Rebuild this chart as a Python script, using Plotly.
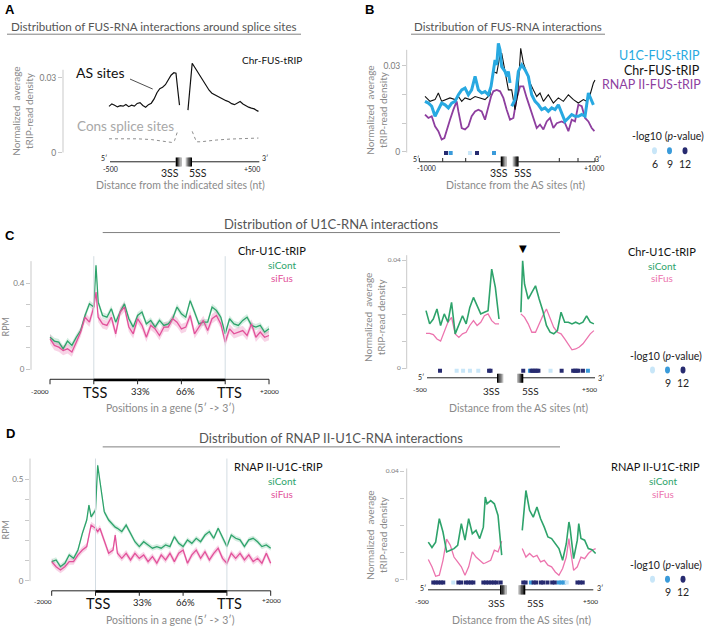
import plotly.graph_objects as go

W, H = 709, 630
FONT = "Lato"
GREY_TXT = "#8a8a8a"
AXIS_GREY = "#c9c9c9"
GREEN = "#2EA36B"
PINK = "#E2519A"
PINK_LIGHT = "#EC74AE"
CYAN = "#28A9E1"
PURPLE = "#8E3F9F"
SIG_COLORS = {6: "#C8E6F8", 9: "#3A9BDA", 12: "#272B70"}

# ---------------- DATA ----------------
# Panel A : Chr-FUS-tRIP around splice sites (nt from site)
A_pos_3ss = [-500, -480, -460, -440, -420, -400, -380, -360, -340, -320, -300, -280, -260, -240,
             -220, -200, -180, -160, -140, -120, -100, -80, -60, -40, -25, -12, 0]
A_as_3ss = [0.0185, 0.0195, 0.0190, 0.0183, 0.0188, 0.0186, 0.0193, 0.0184, 0.0190, 0.0186,
            0.0197, 0.0200, 0.0189, 0.0182, 0.0192, 0.0198, 0.0215, 0.0240, 0.0256, 0.0262,
            0.0272, 0.0290, 0.0310, 0.0320, 0.0318, 0.0250, 0.0190]
A_pos_5ss = [0, 15, 30, 50, 70, 90, 110, 130, 150, 170, 190, 210, 230, 250, 270, 290, 310, 330,
             350, 370, 390, 410, 430, 450, 470, 490, 500]
A_as_5ss = [0.0170, 0.0270, 0.0358, 0.0340, 0.0322, 0.0305, 0.0285, 0.0268, 0.0250, 0.0238,
            0.0232, 0.0226, 0.0218, 0.0214, 0.0208, 0.0204, 0.0196, 0.0192, 0.0200, 0.0205,
            0.0195, 0.0188, 0.0182, 0.0178, 0.0175, 0.0168, 0.0165]
A_cons_pos_3ss = [-500, -400, -300, -200, -150, -100, -70, -50, -35, -25, -14]
A_cons_3ss = [0.0055, 0.0056, 0.0055, 0.0052, 0.0048, 0.0042, 0.0039, 0.0040, 0.0048, 0.0065, 0.0085]
A_cons_pos_5ss = [30, 45, 60, 90, 130, 200, 300, 400, 500]
A_cons_5ss = [0.0085, 0.0060, 0.0043, 0.0043, 0.0046, 0.0050, 0.0054, 0.0057, 0.0058]

# Panel B : FUS-RNA interactions (-1000..+1000 around AS sites)
B_chr_pos = [-1000, -941, -882, -843, -804, -764, -706, -647, -607, -568, -529, -470, -411, -353,
             -294, -235, -196, -156, -117, -98, -58, -19, 20, 59, 91, 126, 157, 197, 236, 275,
             314, 353, 393, 451, 510, 569, 628, 687, 746, 804, 863, 902, 942, 981, 1000]
B_chr = [0.0193, 0.0176, 0.0182, 0.0205, 0.0176, 0.0182, 0.0188, 0.0182, 0.0193, 0.0176,
         0.0188, 0.0182, 0.0193, 0.0188, 0.0182, 0.0199, 0.0280, 0.0274, 0.0338, 0.0344,
         0.0274, 0.0216, 0.0216, 0.0147, 0.0200, 0.0361, 0.0310, 0.0274, 0.0240, 0.0216,
         0.0193, 0.0205, 0.0176, 0.0199, 0.0170, 0.0188, 0.0176, 0.0199, 0.0182, 0.0170,
         0.0182, 0.0176, 0.0199, 0.0240, 0.0250]
B_u1c_pos_3ss = [-1000, -960, -921, -882, -843, -804, -764, -725, -686, -647, -607, -568, -529,
                 -490, -451, -411, -372, -333, -294, -255, -223, -196, -176, -156, -137, -117,
                 -98, -58, -39, -19, 0]
B_u1c_3ss = [0.0176, 0.0170, 0.0159, 0.0124, 0.0147, 0.0170, 0.0164, 0.0153, 0.0170, 0.0176,
             0.0199, 0.0216, 0.0222, 0.0199, 0.0216, 0.0263, 0.0216, 0.0205, 0.0210, 0.0199,
             0.0228, 0.0280, 0.0320, 0.0303, 0.0378, 0.0355, 0.0297, 0.0280, 0.0263, 0.0280,
             0.0240]
B_u1c_pos_5ss = [20, 59, 98, 138, 177, 216, 255, 295, 334, 373, 412, 451, 491, 530, 569, 608,
                 647, 687, 726, 765, 804, 844, 883, 922, 950, 981]
B_u1c_5ss = [0.0159, 0.0182, 0.0280, 0.0303, 0.0286, 0.0263, 0.0199, 0.0176, 0.0164, 0.0147,
             0.0153, 0.0141, 0.0153, 0.0147, 0.0164, 0.0135, 0.0106, 0.0118, 0.0130, 0.0124,
             0.0124, 0.0130, 0.0124, 0.0205, 0.0185, 0.0164]
B_pol_pos = [-1000, -960, -921, -882, -843, -804, -772, -745, -706, -666, -627, -607, -568, -529,
             -490, -451, -411, -372, -333, -294, -255, -223, -196, -156, -117, -78, -39, 0, 40,
             79, 118, 157, 197, 236, 275, 314, 353, 393, 432, 471, 510, 550, 608, 647, 687, 726,
             765, 804, 844, 883, 922, 961, 993]
B_pol = [0.0130, 0.0118, 0.0124, 0.0089, 0.0072, 0.0043, 0.0048, 0.0078, 0.0112, 0.0147,
         0.0176, 0.0141, 0.0083, 0.0078, 0.0089, 0.0124, 0.0141, 0.0147, 0.0141, 0.0112,
         0.0159, 0.0193, 0.0211, 0.0216, 0.0211, 0.0188, 0.0147, 0.0112, 0.0118, 0.0188,
         0.0228, 0.0228, 0.0188, 0.0153, 0.0112, 0.0083, 0.0095, 0.0078, 0.0106, 0.0118,
         0.0083, 0.0100, 0.0106, 0.0100, 0.0072, 0.0112, 0.0106, 0.0164, 0.0159, 0.0118,
         0.0106, 0.0083, 0.0072]
B_sig_pos = [-753, -698, -471, -388, -188]
B_sig_lvl = [12, 9, 6, 12, 9]

# Panel C left : Chr-U1C-tRIP metagene (-1 = -2000, 0 = TSS, 1 = 33%, 2 = 66%, 3 = TTS, 4 = +2000)
C_meta_pos = [-1.0, -0.9, -0.8, -0.7, -0.6, -0.5, -0.4, -0.3, -0.2, -0.1, 0.0, 0.05, 0.1,
              0.2, 0.3, 0.4, 0.5, 0.6, 0.7, 0.8, 0.9, 1.0, 1.1, 1.2, 1.3, 1.4, 1.5, 1.6, 1.7,
              1.8, 1.9, 2.0, 2.1, 2.2, 2.3, 2.4, 2.5, 2.6, 2.7, 2.8, 2.9, 3.0, 3.1, 3.2, 3.3,
              3.4, 3.5, 3.6, 3.7, 3.8, 3.9, 4.0]
C_meta_cont = [0.150, 0.132, 0.127, 0.096, 0.132, 0.112, 0.150, 0.181, 0.251, 0.305, 0.290,
               0.484, 0.313, 0.251, 0.243, 0.282, 0.220, 0.267, 0.305, 0.236, 0.197, 0.251,
               0.267, 0.212, 0.228, 0.197, 0.228, 0.205, 0.212, 0.236, 0.290, 0.259, 0.243,
               0.320, 0.267, 0.212, 0.220, 0.220, 0.290, 0.274, 0.243, 0.166, 0.236, 0.212,
               0.205, 0.228, 0.243, 0.205, 0.197, 0.205, 0.174, 0.189]
C_meta_fus = [0.143, 0.112, 0.104, 0.088, 0.096, 0.081, 0.127, 0.174, 0.243, 0.220, 0.290,
              0.360, 0.243, 0.212, 0.205, 0.243, 0.166, 0.267, 0.290, 0.197, 0.166, 0.236,
              0.205, 0.150, 0.205, 0.189, 0.158, 0.197, 0.197, 0.236, 0.220, 0.189, 0.197,
              0.251, 0.166, 0.197, 0.228, 0.181, 0.236, 0.251, 0.212, 0.127, 0.189, 0.166,
              0.174, 0.181, 0.158, 0.212, 0.150, 0.174, 0.150, 0.158]
C_meta_sem_cont = 0.015
C_meta_sem_fus = 0.022

# Panel C right : Chr-U1C-tRIP around AS sites
C_pos_3ss = [-500, -475, -450, -425, -400, -375, -350, -325, -300, -275, -250, -225, -200, -175,
             -150, -125, -100, -75, -50, -25, 0]
C_cont_3ss = [0.0213, 0.0164, 0.0182, 0.0219, 0.0158, 0.0201, 0.0170, 0.0244, 0.0127, 0.0158,
              0.0194, 0.0164, 0.0225, 0.0262, 0.0231, 0.0201, 0.0207, 0.0213, 0.0367, 0.0299,
              0.0182]
C_fus_3ss = [0.0129, 0.0129, 0.0124, 0.0108, 0.0100, 0.0133, 0.0170, 0.0188, 0.0127, 0.0114,
             0.0127, 0.0133, 0.0158, 0.0176, 0.0158, 0.0170, 0.0194, 0.0201, 0.0176, 0.0164,
             0.0164]
C_pos_5ss = [0, 12, 25, 50, 75, 100, 125, 150, 175, 200, 225, 250, 275, 300, 325, 350, 375, 400,
             425, 450, 475, 500]
C_cont_5ss = [0.0207, 0.0398, 0.0311, 0.0256, 0.0281, 0.0305, 0.0256, 0.0213, 0.0158, 0.0133,
              0.0127, 0.0139, 0.0207, 0.0170, 0.0170, 0.0164, 0.0170, 0.0164, 0.0170, 0.0194,
              0.0170, 0.0164]
C_fus_5ss = [0.0201, 0.0195, 0.0188, 0.0164, 0.0133, 0.0133, 0.0164, 0.0194, 0.0219, 0.0182,
             0.0151, 0.0133, 0.0127, 0.0108, 0.0090, 0.0068, 0.0071, 0.0078, 0.0090, 0.0108,
             0.0127, 0.0139]
C_sig_pos_3ss = [-404, -290, -246, -199, -142, -68, -58]
C_sig_lvl_3ss = [12, 6, 6, 6, 6, 12, 12]
C_sig_pos_5ss = [16, 62, 72, 84, 96, 108, 120, 203, 279, 358, 370, 382, 394, 425, 459]
C_sig_lvl_5ss = [12, 9, 12, 12, 12, 12, 12, 6, 12, 12, 12, 12, 12, 12, 9]

# Panel D left : RNAP II-U1C-tRIP metagene
D_meta_pos = [-1.0, -0.9, -0.8, -0.7, -0.6, -0.5, -0.4, -0.3, -0.2, -0.15, -0.1, 0.0, 0.05, 0.1,
              0.2, 0.3, 0.4, 0.45, 0.5, 0.6, 0.7, 0.8, 0.9, 1.0, 1.1, 1.2, 1.3, 1.4, 1.5, 1.6,
              1.7, 1.8, 1.9, 2.0, 2.1, 2.2, 2.3, 2.4, 2.5, 2.6, 2.7, 2.8, 2.9, 3.0, 3.1, 3.2,
              3.3, 3.4, 3.5, 3.6, 3.7, 3.8, 3.9, 4.0]
D_meta_cont = [0.095, 0.103, 0.070, 0.087, 0.128, 0.111, 0.152, 0.234, 0.300, 0.374, 0.316,
               0.349, 0.570, 0.497, 0.341, 0.300, 0.275, 0.265, 0.259, 0.243, 0.275, 0.234,
               0.193, 0.169, 0.193, 0.177, 0.161, 0.169, 0.161, 0.177, 0.169, 0.218, 0.185,
               0.169, 0.202, 0.185, 0.210, 0.193, 0.226, 0.243, 0.210, 0.259, 0.210, 0.169,
               0.226, 0.210, 0.202, 0.169, 0.202, 0.210, 0.193, 0.169, 0.177, 0.161]
D_meta_fus = [0.095, 0.070, 0.054, 0.070, 0.095, 0.095, 0.128, 0.152, 0.169, 0.220, 0.275,
              0.259, 0.243, 0.259, 0.202, 0.136, 0.152, 0.226, 0.136, 0.111, 0.136, 0.103,
              0.136, 0.111, 0.128, 0.095, 0.120, 0.087, 0.128, 0.103, 0.136, 0.095, 0.136,
              0.152, 0.087, 0.128, 0.152, 0.111, 0.144, 0.103, 0.136, 0.161, 0.111, 0.087,
              0.136, 0.111, 0.136, 0.103, 0.128, 0.095, 0.111, 0.087, 0.136, 0.087]
D_meta_sem_cont = 0.013
D_meta_sem_fus = 0.016

# Panel D right : RNAP II-U1C-tRIP around AS sites
D_pos_3ss = [-500, -475, -450, -425, -400, -375, -350, -325, -300, -275, -250, -225, -200, -175,
             -150, -125, -112, -100, -75, -50, -25, 0]
D_cont_3ss = [0.0139, 0.0119, 0.0139, 0.0225, 0.0176, 0.0103, 0.0109, 0.0115, 0.0127, 0.0207,
              0.0146, 0.0225, 0.0170, 0.0182, 0.0152, 0.0194, 0.0305, 0.0280, 0.0292, 0.0280,
              0.0237, 0.0091]
D_fus_3ss = [0.0075, 0.0048, 0.0013, 0.0017, 0.0072, 0.0150, 0.0127, 0.0084, 0.0066, 0.0048,
             0.0017, 0.0048, 0.0103, 0.0084, 0.0072, 0.0060, 0.0062, 0.0066, 0.0072, 0.0109,
             0.0103, 0.0142]
D_pos_5ss = [0, 25, 50, 75, 100, 125, 150, 175, 200, 225, 250, 275, 300, 318, 325, 350, 375, 385,
             400, 425, 450, 475, 500]
D_cont_5ss = [0.0182, 0.0329, 0.0256, 0.0231, 0.0268, 0.0225, 0.0194, 0.0158, 0.0152, 0.0133,
              0.0115, 0.0072, 0.0133, 0.0213, 0.0194, 0.0078, 0.0146, 0.0207, 0.0152, 0.0146,
              0.0115, 0.0111, 0.0097]
D_fus_5ss = [0.0115, 0.0084, 0.0097, 0.0084, 0.0090, 0.0066, 0.0072, 0.0054, 0.0048, 0.0029,
             0.0017, 0.0042, 0.0084, 0.0152, 0.0121, 0.0035, 0.0048, 0.0060, 0.0084, 0.0078,
             0.0097, 0.0109, 0.0115]
D_sig_pos_3ss = [-466, -450, -432, -414, -398, -330, -295, -277, -245, -227, -209, -193, -125,
                 -107, -89, -70, -52, -34, -7]
D_sig_lvl_3ss = [12, 12, 12, 12, 12, 6, 12, 12, 12, 12, 12, 12, 12, 12, 12, 12, 12, 12, 12]
D_sig_pos_5ss = [7, 23, 59, 77, 95, 127, 143, 172, 204, 222, 249, 267, 285, 303, 376, 394, 412]
D_sig_lvl_5ss = [12, 12, 9, 12, 12, 12, 12, 12, 12, 12, 9, 9, 9, 6, 12, 12, 12]

# gap offsets (layout) placing the 5SS segment right of the 3SS segment
OFF_A, OFF_C, OFF_D = 60, 150, 140


# ---------------- HELPERS ----------------
def px(x):
    return x / W


def py(y):
    return 1 - y / H


fig = go.Figure()
layout = {}
shapes, annots = [], []


def lin(p, a):
    p1, v1, p2, v2 = a
    return v1 + (p - p1) * (v2 - v1) / (p2 - p1)


def axes(i, xdom, xa, ydom, ya, tickvals, ticktext, tsize):
    xk = "xaxis" if i == 1 else f"xaxis{i}"
    yk = "yaxis" if i == 1 else f"yaxis{i}"
    xn = "x" if i == 1 else f"x{i}"
    yn = "y" if i == 1 else f"y{i}"
    layout[xk] = dict(domain=[px(xdom[0]), px(xdom[1])],
                      range=[lin(xdom[0], xa), lin(xdom[1], xa)],
                      visible=False, anchor=yn, fixedrange=True)
    layout[yk] = dict(domain=[py(ydom[1]), py(ydom[0])],
                      range=[lin(ydom[1], ya), lin(ydom[0], ya)],
                      anchor=xn, showgrid=False, zeroline=False, showline=False,
                      ticks="outside", ticklen=4, tickwidth=1, tickcolor=AXIS_GREY,
                      tickvals=tickvals, ticktext=ticktext,
                      tickfont=dict(size=tsize, color="#7a7a7a", family=FONT),
                      fixedrange=True)
    return xn, yn


def track(i, xn, yc):
    layout[f"yaxis{i}"] = dict(domain=[py(yc + 4), py(yc - 4)], range=[-1, 1], anchor=xn,
                               visible=False, fixedrange=True)
    return f"y{i}"


def add_line(x, y, xn, yn, color, width, dash=None):
    fig.add_trace(go.Scatter(x=x, y=y, xaxis=xn, yaxis=yn, mode="lines",
                             line=dict(color=color, width=width, dash=dash),
                             hoverinfo="skip", showlegend=False, connectgaps=False))


def add_band(pos, vals, sem, xn, yn, fill):
    up = [v + sem for v in vals]
    lo = [v - sem for v in vals]
    fig.add_trace(go.Scatter(x=list(pos) + list(pos)[::-1], y=up + lo[::-1], xaxis=xn, yaxis=yn,
                             mode="lines", fill="toself", fillcolor=fill, line=dict(width=0),
                             hoverinfo="skip", showlegend=False))


def split(p3, p5, off):
    return list(p3) + [None] + [p + off for p in p5]


def add_sig(pos, lvl, xn, yn):
    fig.add_trace(go.Scatter(x=pos, y=[0] * len(pos), xaxis=xn, yaxis=yn, mode="markers",
                             marker=dict(symbol="square", size=4,
                                         color=[SIG_COLORS[l] for l in lvl], line=dict(width=0)),
                             hoverinfo="skip", showlegend=False))


def seg(x0, y0, x1, y1, color="#000", width=1, dash=None):
    shapes.append(dict(type="line", xref="paper", yref="paper", x0=px(x0), y0=py(y0),
                       x1=px(x1), y1=py(y1), line=dict(color=color, width=width, dash=dash)))


def rect(x0, y0, x1, y1, color):
    shapes.append(dict(type="rect", xref="paper", yref="paper", x0=px(x0), y0=py(y1),
                       x1=px(x1), y1=py(y0), fillcolor=color, line=dict(width=0)))


def ell(cx, cy, color, w=5, h=7):
    shapes.append(dict(type="circle", xref="paper", yref="paper", x0=px(cx - w / 2),
                       x1=px(cx + w / 2), y0=py(cy + h / 2), y1=py(cy - h / 2),
                       fillcolor=color, line=dict(width=0)))


def txt(x, y, s, size=10, color="#000", xanchor="center", angle=0, family=FONT):
    annots.append(dict(x=px(x), y=py(y), xref="paper", yref="paper", text=s, showarrow=False,
                       xanchor=xanchor, yanchor="middle", textangle=angle,
                       font=dict(size=size, color=color, family=family)))


def grad_box(x0, x1, y0, y1, dark_left):
    greys = ["#000000", "#262626", "#555555", "#888888", "#bbbbbb"]
    if not dark_left:
        greys = greys[::-1]
    w = (x1 - x0) / len(greys)
    for k, g in enumerate(greys):
        rect(x0 + k * w, y0, x0 + (k + 1) * w + 0.3, y1, g)


def ss_axis(xl, b3, b5, xr, yl, by):
    seg(xl, yl, b3[0], yl, "#222", 1)
    seg(b5[1], yl, xr, yl, "#222", 1)
    grad_box(b3[0], b3[1], by[0], by[1], True)
    grad_box(b5[0], b5[1], by[0], by[1], False)


def gene_axis(xn, yl):
    shapes.append(dict(type="line", xref=xn, yref="paper", x0=-1, x1=4, y0=py(yl), y1=py(yl),
                       line=dict(color="#222", width=1)))
    shapes.append(dict(type="line", xref=xn, yref="paper", x0=0, x1=3, y0=py(yl + 0.7),
                       y1=py(yl + 0.7), line=dict(color="#000", width=2.5)))
    for t in [-1, 0, 1, 2, 3, 4]:
        shapes.append(dict(type="line", xref=xn, yref="paper", x0=t, x1=t, y0=py(yl),
                           y1=py(yl + 5), line=dict(color="#222", width=1)))


def vguide(xn, xv, y0, y1):
    shapes.append(dict(type="line", xref=xn, yref="paper", x0=xv, x1=xv, y0=py(y0), y1=py(y1),
                       line=dict(color="#d3dce2", width=1)))


def ytitle(x, y, size=10):
    txt(x, y, "Normalized  average<br>tRIP-read density", size, GREY_TXT, angle=-90)


def sig_legend(x_c, y_t, labels):
    txt(x_c, y_t, "-log10 (<i>p</i>-value)", 10.5, "#222")
    xs = [x_c - 13.5, x_c + 1.5, x_c + 17]
    for xv, lv in zip(xs, [6, 9, 12]):
        ell(xv, y_t + 14.5, SIG_COLORS[lv])
    for xv, lab in zip(xs, labels):
        if lab:
            txt(xv, y_t + 27.5, lab, 10.5, "#222")


def panel_title(x0, x1, y_text, y_line, s, size, line_x=None):
    txt((x0 + x1) / 2, y_text, s, size, "#555555")
    lx = line_x if line_x else (x0 - 2, x1 + 2)
    seg(lx[0], y_line, lx[1], y_line, "#808080", 1)


# ---------------- PANEL A ----------------
xa, ya = axes(1, (63, 268), (109, -500, 179.5, 0), (58, 156), (153, 0, 78, 0.03),
              [0, 0.03], ["0", "0.03"], 8.5)
add_line(split(A_cons_pos_3ss, A_cons_pos_5ss, OFF_A), A_cons_3ss + [None] + A_cons_5ss,
         xa, ya, "#8f8f8f", 1, "dot")
add_line(split(A_pos_3ss, A_pos_5ss, OFF_A), A_as_3ss + [None] + A_as_5ss, xa, ya, "#111", 1.2)
seg(63, 70, 63, 153, AXIS_GREY, 1)
txt(10, 9.5, "<b>A</b>", 13, "#000", family="Liberation Sans")
panel_title(9, 299, 26.7, 34.3, "Distribution of FUS-RNA interactions around splice sites", 11.6)
txt(271.7, 60, "Chr-FUS-tRIP", 10, "#111")
txt(100, 72.3, "AS sites", 14, "#111")
seg(130, 79.3, 152.7, 89.3, "#222", 0.8)
txt(125.7, 126, "Cons splice sites", 13.5, "#a8a8a8")
ytitle(23, 112)
ss_axis(110, (175.7, 181.7), (185.7, 191.7), 259.3, 162.3, (158, 167))
txt(104, 159, "5′", 7, "#222")
txt(265, 159, "3′", 7, "#222")
txt(110, 170, "-500", 7, "#222")
txt(252, 170, "+500", 7, "#222")
txt(170, 173.5, "3SS", 10.5, "#222")
txt(198, 173.5, "5SS", 10.5, "#222")
txt(180, 185.5, "Distance from the indicated sites (nt)", 10.5, GREY_TXT)

# ---------------- PANEL B ----------------
xb, yb = axes(2, (407, 600), (425, -1000, 510, 0), (40, 157), (152.3, 0, 66, 0.03),
              [0, 0.01, 0.02, 0.03], ["0", "", "", "0.03"], 8.5)
add_line(B_pol_pos, B_pol, xb, yb, PURPLE, 1.8)
add_line(B_chr_pos, B_chr, xb, yb, "#111", 1.1)
add_line(split(B_u1c_pos_3ss, B_u1c_pos_5ss, 0), B_u1c_3ss + [None] + B_u1c_5ss, xb, yb, CYAN, 3)
yb_t = track(7, xb, 153.5)
add_sig(B_sig_pos, B_sig_lvl, xb, yb_t)
seg(406.7, 50, 406.7, 153, AXIS_GREY, 1)
txt(369, 9.5, "<b>B</b>", 13, "#000", family="Liberation Sans")
panel_title(413, 603, 26.7, 34.3, "Distribution of FUS-RNA interactions", 11.5)
ytitle(377, 110)
ss_axis(419.3, (500.7, 506.7), (512.7, 518.3), 595, 162.3, (157, 167))
for tx in [419.3, 442.7, 465.7, 559.3, 578, 595]:
    seg(tx, 158.5, tx, 162.3, "#222", 1)
txt(416, 159.5, "5′", 7, "#222")
txt(598, 159.5, "3′", 7, "#222")
txt(426.7, 168.5, "-1000", 7, "#222")
txt(594, 168.5, "+1000", 7, "#222")
txt(499, 173.5, "3SS", 10.5, "#222")
txt(523, 173.5, "5SS", 10.5, "#222")
txt(515, 185.5, "Distance from the AS sites (nt)", 10.5, GREY_TXT)
txt(702, 56, "U1C-FUS-tRIP", 12.5, CYAN, xanchor="right")
txt(702, 70.7, "Chr-FUS-tRIP", 12.5, "#111", xanchor="right")
txt(703, 85, "RNAP II-FUS-tRIP", 12.5, PURPLE, xanchor="right")
sig_legend(668, 136.7, ["6", "9", "12"])

# ---------------- PANEL C ----------------
txt(10, 236, "<b>C</b>", 13, "#000", family="Liberation Sans")
txt(331, 225, "Distribution of U1C-RNA interactions", 13, "#555555")
seg(102.7, 233.3, 560, 233.3, "#808080", 1)

xc, yc = axes(3, (31, 276), (50, -1, 269, 4), (255, 375), (370.7, 0, 284.3, 0.4),
              [0, 0.1, 0.2, 0.3, 0.4], ["0", "", "", "", "0.4"], 8)
vguide(xc, 0, 257, 381)
vguide(xc, 3, 257, 381)
add_band(C_meta_pos, C_meta_cont, C_meta_sem_cont, xc, yc, "rgba(46,163,107,0.20)")
add_band(C_meta_pos, C_meta_fus, C_meta_sem_fus, xc, yc, "rgba(226,81,154,0.25)")
add_line(C_meta_pos, C_meta_cont, xc, yc, GREEN, 1.3)
add_line(C_meta_pos, C_meta_fus, xc, yc, PINK, 1.3)
seg(31, 262, 31, 371, AXIS_GREY, 1)
gene_axis(xc, 380.5)
txt(5.5, 328, "RPM", 9, GREY_TXT, angle=-90)
txt(40, 393, "-2000", 6.5, "#222")
txt(95.3, 393.5, "TSS", 14.5, "#111")
txt(140, 393, "33%", 9.5, "#222")
txt(185, 393, "66%", 9.5, "#222")
txt(229, 393.5, "TTS", 14.5, "#111")
txt(269.7, 392.7, "+2000", 6.5, "#222")
txt(170.7, 409, "Positions in a gene (5′ -> 3′)", 10.5, GREY_TXT)
txt(271.7, 251.7, "Chr-U1C-tRIP", 11, "#111")
txt(281.7, 266, "siCont", 10, GREEN)
txt(281.7, 279.3, "siFus", 10, PINK)

xc2, yc2 = axes(4, (407, 605), (426, -500, 499, 0), (245, 373), (369.3, 0, 261, 0.04),
                [0, 0.01, 0.02, 0.03, 0.04], ["0", "", "", "", "0.04"], 6.5)
add_line(split(C_pos_3ss, C_pos_5ss, OFF_C), C_fus_3ss + [None] + C_fus_5ss, xc2, yc2, PINK_LIGHT, 1.3)
add_line(split(C_pos_3ss, C_pos_5ss, OFF_C), C_cont_3ss + [None] + C_cont_5ss, xc2, yc2, GREEN, 1.6)
yc2_t = track(8, xc2, 372)
add_sig(C_sig_pos_3ss + [p + OFF_C for p in C_sig_pos_5ss], C_sig_lvl_3ss + C_sig_lvl_5ss,
        xc2, yc2_t)
seg(406.7, 256, 406.7, 370, AXIS_GREY, 1)
annots.append(dict(x=C_pos_5ss[1] + OFF_C, y=py(249.3), xref=xc2, yref="paper", text="▼",
                   showarrow=False, xanchor="center", yanchor="middle",
                   font=dict(size=10, color="#000", family="DejaVu Sans")))
ytitle(375, 318)
ss_axis(427, (497, 503), (517, 523), 595, 379, (375, 384))
txt(421, 378, "5′", 7, "#222")
txt(601, 379, "3′", 7, "#222")
txt(420, 390.7, "-500", 6.5, "#222")
txt(491.7, 392, "3SS", 10, "#222")
txt(530, 392, "5SS", 10, "#222")
txt(589, 391, "+500", 6.5, "#222")
txt(518, 409, "Distance from the AS sites (nt)", 10.5, GREY_TXT)
txt(661.7, 252, "Chr-U1C-tRIP", 11, "#111")
txt(661.7, 266.7, "siCont", 10, GREEN)
txt(661.7, 279, "siFus", 10, PINK_LIGHT)
sig_legend(666, 356.7, ["", "9", "12"])

# ---------------- PANEL D ----------------
txt(10, 434.5, "<b>D</b>", 13, "#000", family="Liberation Sans")
txt(331, 439, "Distribution of RNAP II-U1C-RNA interactions", 13, "#555555")
seg(102.7, 448.3, 560, 448.3, "#808080", 1)

xd, yd = axes(5, (30, 276), (51.7, -1, 270.7, 4), (455, 587), (582.7, 0, 481, 0.5),
              [0, 0.1, 0.2, 0.3, 0.4, 0.5], ["0", "", "", "", "", "0.5"], 8)
vguide(xd, 0, 460, 593)
vguide(xd, 3, 460, 593)
add_band(D_meta_pos, D_meta_cont, D_meta_sem_cont, xd, yd, "rgba(46,163,107,0.20)")
add_band(D_meta_pos, D_meta_fus, D_meta_sem_fus, xd, yd, "rgba(226,81,154,0.25)")
add_line(D_meta_pos, D_meta_cont, xd, yd, GREEN, 1.3)
add_line(D_meta_pos, D_meta_fus, xd, yd, PINK, 1.3)
seg(30, 460, 30, 583, AXIS_GREY, 1)
gene_axis(xd, 592.7)
txt(5.5, 531.7, "RPM", 9, GREY_TXT, angle=-90)
txt(43.3, 603, "-2000", 6.5, "#222")
txt(97.8, 605, "TSS", 14.5, "#111")
txt(142.5, 604, "33%", 9.5, "#222")
txt(185.3, 604, "66%", 9.5, "#222")
txt(229.2, 605, "TTS", 14.5, "#111")
txt(271.7, 602.7, "+2000", 6.5, "#222")
txt(170, 621.7, "Positions in a gene (5′ -> 3′)", 10.5, GREY_TXT)
txt(278, 468.3, "RNAP II-U1C-tRIP", 11, "#111")
txt(281.7, 482.3, "siCont", 10, GREEN)
txt(281.7, 496, "siFus", 10, PINK)

xd2, yd2 = axes(6, (405, 605), (428.3, -500, 501.7, 0), (465, 585), (581.7, 0, 472.7, 0.04),
                [0, 0.01, 0.02, 0.03, 0.04], ["0", "", "", "", "0.04"], 6.5)
add_line(split(D_pos_3ss, D_pos_5ss, OFF_D), D_fus_3ss + [None] + D_fus_5ss, xd2, yd2, PINK_LIGHT, 1.3)
add_line(split(D_pos_3ss, D_pos_5ss, OFF_D), D_cont_3ss + [None] + D_cont_5ss, xd2, yd2, GREEN, 1.6)
yd2_t = track(9, xd2, 584.3)
add_sig(D_sig_pos_3ss + [p + OFF_D for p in D_sig_pos_5ss], D_sig_lvl_3ss + D_sig_lvl_5ss,
        xd2, yd2_t)
seg(406.7, 470, 406.7, 582, AXIS_GREY, 1)
ytitle(376.7, 536.7)
ss_axis(428, (500, 506.7), (518.3, 525), 593.3, 591.7, (587, 596.5))
txt(423.3, 590, "5′", 7, "#222")
txt(600, 590, "3′", 7, "#222")
txt(421.7, 603.3, "-500", 6.5, "#222")
txt(496.7, 605, "3SS", 10, "#222")
txt(535, 605, "5SS", 10, "#222")
txt(590, 603, "+500", 6.5, "#222")
txt(521.7, 621.7, "Distance from the AS sites (nt)", 10.5, GREY_TXT)
txt(655, 468.3, "RNAP II-U1C-tRIP", 11, "#111")
txt(663.3, 482.3, "siCont", 10, GREEN)
txt(663.3, 496, "siFus", 10, PINK_LIGHT)
sig_legend(666, 566.7, ["", "9", "12"])

fig.update_layout(**layout)
fig.update_layout(width=W, height=H, margin=dict(l=0, r=0, t=0, b=0), autosize=False,
                  paper_bgcolor="white", plot_bgcolor="white", showlegend=False,
                  shapes=shapes, annotations=annots, font=dict(family=FONT))
fig.write_html("out.html", config={"displayModeBar": False},
               post_script="document.body.style.margin='0px';document.body.style.overflow='hidden';")
